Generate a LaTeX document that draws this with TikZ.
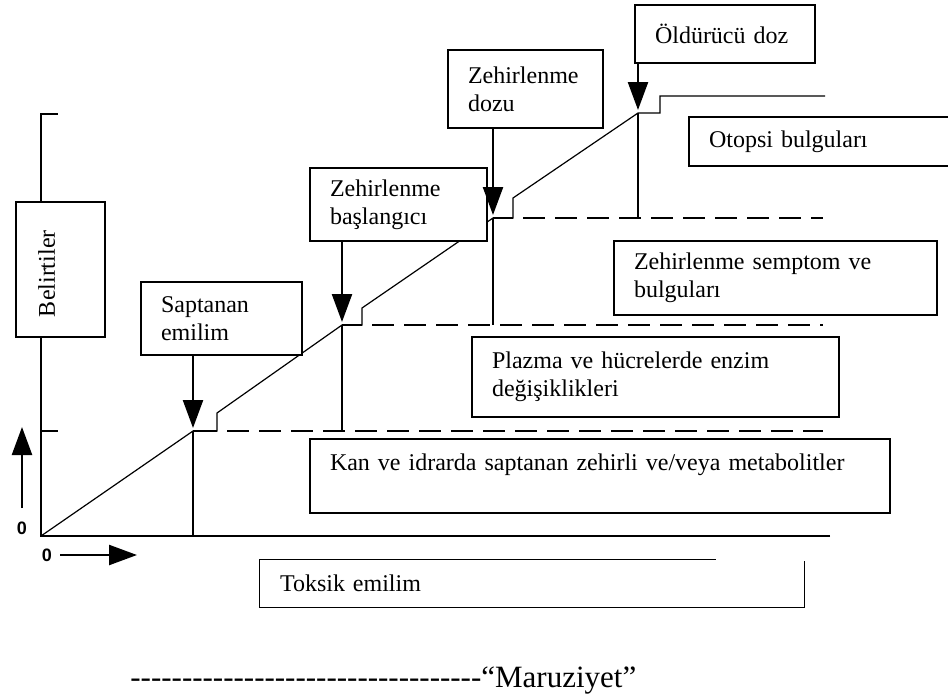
\documentclass[tikz,border=0pt]{standalone}
\usepackage{fontspec}
\setmainfont{Liberation Serif}
\newfontfamily\rakamfont{Liberation Sans}
\usetikzlibrary{arrows.meta}

\newcommand\tire{\mbox{-}}
\newcommand\ontire{\tire\tire\tire\tire\tire\tire\tire\tire\tire\tire}

\tikzset{
	kutu/.style={draw, fill=white, line width=0.6pt, align=left, inner xsep=10pt, inner ysep=0pt, font=\fontsize{12}{14}\selectfont},
	eksen/.style={line width=1.3pt},
	egri/.style={line width=0.6pt},
	kesik/.style={line width=1.4pt, dash pattern=on 11pt off 5pt, dash phase=11pt},
	dusey/.style={line width=0.9pt},
	ok/.style={line width=1.2pt, -{Triangle[length=14pt,width=10pt]}},
	rakam/.style={font=\rakamfont\bfseries\fontsize{9}{9}\selectfont, inner sep=0pt},
}

\begin{document}
\begin{tikzpicture}[x=0.5pt, y=-0.5pt]
	\useasboundingbox (0,0) rectangle (948,697);
	\clip (0,0) rectangle (948,697);

	% eksenler
	\coordinate (O) at (41,536);
	\coordinate (ytop) at (41,114);
	\coordinate (xend) at (830,536);
	\coordinate (son) at (823,0);
	\draw[eksen] (xend) -- (O) -- (ytop) -- ++(17,0);

	% egri
	\coordinate (p1) at (193,431);
	\coordinate (p2) at (342,325);
	\coordinate (p3) at (493,218);
	\coordinate (p4) at (638,113);
	\draw[egri] (O) -- (p1) -- ++(24,0) -- ++(0,-18) -- (p2) -- ++(20,0) -- ++(0,-17) -- (p3)
		-- ++(20,0) -- ++(0,-20) -- (p4) -- ++(22,0) -- ++(0,-17) -- ++(165,0);
	\draw[egri] (O |- p1) -- ++(17,0);

	% kesikli seviyeler
	\draw[eksen] (p1) -- ++(24,0);
	\draw[kesik] ([xshift=12pt]p1) -- (p1 -| son);
	\draw[eksen] (p2) -- ++(20,0);
	\draw[kesik] ([xshift=10pt]p2) -- (p2 -| son);
	\draw[eksen] (p3) -- ++(20,0);
	\draw[kesik] ([xshift=10pt]p3) -- (p3 -| son);

	\draw[dusey] (p1) -- (p1 |- O);
	\draw[dusey] (p2) -- (p2 |- p1);
	\draw[dusey] (p3) -- (p3 |- p2);
	\draw[dusey] (p4) -- (p4 |- p3);

	% kutular
	\node[kutu, text width=70pt, minimum height=29pt] (oldurucu) at (725,34) {Öldürücü doz};
	\node[kutu, text width=57.5pt, minimum height=39pt] (dozu) at (525.5,89) {Zehirlenme\\dozu};
	\node[kutu, text width=115.5pt, minimum height=24.5pt] (otopsi) at (824.5,141.5) {Otopsi bulguları};
	\node[kutu, text width=68.5pt, minimum height=36.5pt] (baslangic) at (398.5,204.5) {Zehirlenme\\başlangıcı};
	\node[kutu, rotate=90, text width=47.5pt, minimum height=44.5pt] (belirtiler) at (60.5,269.5) {Belirtiler\\\mbox{}};
	\node[kutu, text width=141.5pt, minimum height=37pt] (semptom) at (775.5,278) {Zehirlenme semptom ve\\bulguları};
	\node[kutu, text width=60.5pt, minimum height=36.5pt] (saptanan) at (221.5,318.5) {Saptanan\\emilim};
	\node[kutu, text width=163.5pt, minimum height=40pt] (plazma) at (655.5,377) {Plazma ve hücrelerde enzim\\değişiklikleri};
	\node[kutu, text width=270pt, minimum height=37pt] (kan) at (600,476) {Kan ve idrarda saptanan zehirli ve/veya metabolitler\\\mbox{}};
	\node[kutu, draw=none, text width=252pt, minimum height=23.5pt] (toksik) at (532,583.5) {Toksik emilim};
	\draw[line width=0.6pt] (toksik.north west) -- ([xshift=-44.5pt]toksik.north east);
	\draw[line width=0.6pt] ([yshift=-1pt]toksik.north east) -- (toksik.south east) -- (toksik.south west) -- (toksik.north west);

	% oklar
	\draw[ok] (saptanan.south -| p1) -- ([yshift=1.5pt]p1);
	\draw[ok] (baslangic.south -| p2) -- ([yshift=1.5pt]p2);
	\draw[ok] (dozu.south -| p3) -- ([yshift=1.5pt]p3);
	\draw[ok] (oldurucu.south -| p4) -- ([yshift=1.5pt]p4);

	\node[rakam] (sifirY) at (22,528) {0};
	\node[rakam] (sifirX) at (47,555) {0};
	\coordinate (yukari) at (22,427);
	\coordinate (saga) at (137,555);
	\draw[ok] ([yshift=6.5pt]sifirY.north) -- (yukari);
	\draw[ok] ([xshift=4pt]sifirX.east) -- (saga);

	\node[anchor=base west, inner sep=0pt, font=\fontsize{15.5}{18}\selectfont] (maruziyet) at (130,687)
		{\ontire\ontire\ontire\tire\tire\tire\tire“Maruziyet”};
\end{tikzpicture}
\end{document}
